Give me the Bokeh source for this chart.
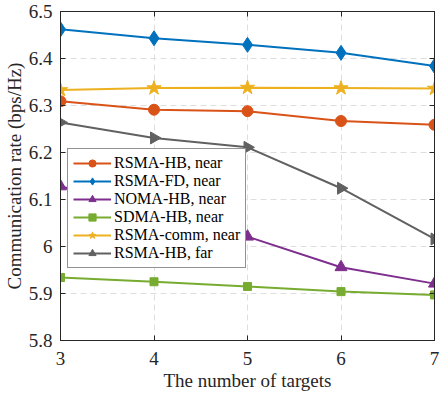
import numpy as np
from bokeh.plotting import figure
from bokeh.models import LinearAxis, FixedTicker, Range1d, Legend, LegendItem
from bokeh.embed import file_html
from bokeh.resources import INLINE

# ---- data ----
targets = [3, 4, 5, 6, 7]
rsma_hb_near = [6.309, 6.291, 6.288, 6.267, 6.259]
rsma_fd_near = [6.462, 6.443, 6.429, 6.412, 6.384]
noma_hb_near = [6.128, 6.075, 6.021, 5.956, 5.921]
sdma_hb_near = [5.934, 5.925, 5.915, 5.904, 5.897]
rsma_comm_near = [6.333, 6.337, 6.338, 6.337, 6.336]
rsma_hb_far = [6.264, 6.231, 6.211, 6.124, 6.016]

x_ticks = [3, 4, 5, 6, 7]
y_ticks = [5.8, 5.9, 6.0, 6.1, 6.2, 6.3, 6.4, 6.5]
y_tick_labels = ["5.8", "5.9", "6", "6.1", "6.2", "6.3", "6.4", "6.5"]

FONT = "Liberation Serif"
AX = "#262626"

p = figure(width=444, height=394, output_backend="svg", toolbar_location=None,
           x_range=Range1d(3, 7), y_range=Range1d(5.8, 6.5),
           min_border_left=58, min_border_right=10, min_border_top=11, min_border_bottom=54)
p.outline_line_color = AX
p.outline_line_width = 1
p.background_fill_color = "white"

for ax in (p.xaxis[0], p.yaxis[0]):
    ax.major_tick_in = 5
    ax.major_tick_out = 0
    ax.minor_tick_in = 0
    ax.minor_tick_out = 0
    ax.axis_line_color = AX
    ax.major_tick_line_color = AX
    ax.major_label_text_font = FONT
    ax.major_label_text_font_size = "19px"
    ax.major_label_text_color = AX
    ax.axis_label_text_font = FONT
    ax.axis_label_text_font_size = "19px"
    ax.axis_label_text_font_style = "normal"
    ax.axis_label_text_color = AX

p.xaxis[0].ticker = FixedTicker(ticks=x_ticks)
p.yaxis[0].ticker = FixedTicker(ticks=y_ticks)
p.yaxis[0].major_label_overrides = {v: s for v, s in zip(y_ticks, y_tick_labels)}
p.xaxis[0].axis_label = "The number of targets"
p.yaxis[0].axis_label = "Communication rate (bps/Hz)"
p.xaxis[0].major_label_standoff = 11
p.xaxis[0].axis_label_standoff = 2
p.yaxis[0].major_label_standoff = 8
p.yaxis[0].axis_label_standoff = 1

# mirrored ticks on top and right (no labels)
for loc, ticks in (("right", y_ticks), ("above", x_ticks)):
    a = LinearAxis(ticker=FixedTicker(ticks=ticks), major_tick_in=5, major_tick_out=0,
                   minor_tick_in=0, minor_tick_out=0,
                   major_label_overrides={t: "" for t in ticks},
                   major_label_standoff=0, axis_line_color=AX, major_tick_line_color=AX)
    p.add_layout(a, loc)

p.xgrid.ticker = FixedTicker(ticks=x_ticks)
p.ygrid.ticker = FixedTicker(ticks=y_ticks)
for g in (p.xgrid[0], p.ygrid[0]):
    g.grid_line_color = "#dedede"
    g.grid_line_dash = "6 4"
    g.grid_line_width = 1

series = [
    ("RSMA-HB, near", rsma_hb_near, "#D95319", "circle", 11, 0.0),
    ("RSMA-FD, near", rsma_fd_near, "#0072BD", "diamond", 15, 0.0),
    ("NOMA-HB, near", noma_hb_near, "#7E2F8E", "triangle", 12, 0.0),
    ("SDMA-HB, near", sdma_hb_near, "#77AC30", "square", 8, 0.0),
    ("RSMA-comm, near", rsma_comm_near, "#EDB120", "star", 15, 0.0),
    ("RSMA-HB, far", rsma_hb_far, "#616161", "triangle", 12, -np.pi / 2),
]

items = []
for label, ys, color, marker, size, ang in series:
    r1 = p.line(targets, ys, line_color=color, line_width=2)
    r2 = p.scatter(targets, ys, marker=marker, size=size, angle=ang,
                   fill_color=color, line_color=color)
    items.append(LegendItem(label=label, renderers=[r1, r2]))

legend = Legend(items=items, location=(7, 72))
legend.label_text_font = FONT
legend.label_text_font_size = "16px"
legend.label_text_color = "black"
legend.glyph_width = 38
legend.glyph_height = 18
legend.label_height = 18
legend.label_standoff = 3
legend.spacing = 0
legend.padding = 5
legend.margin = 0
legend.border_line_color = AX
legend.border_line_width = 1
legend.background_fill_color = "white"
legend.background_fill_alpha = 1
p.add_layout(legend, "center")

open("out.html", "w").write(file_html(p, INLINE))
